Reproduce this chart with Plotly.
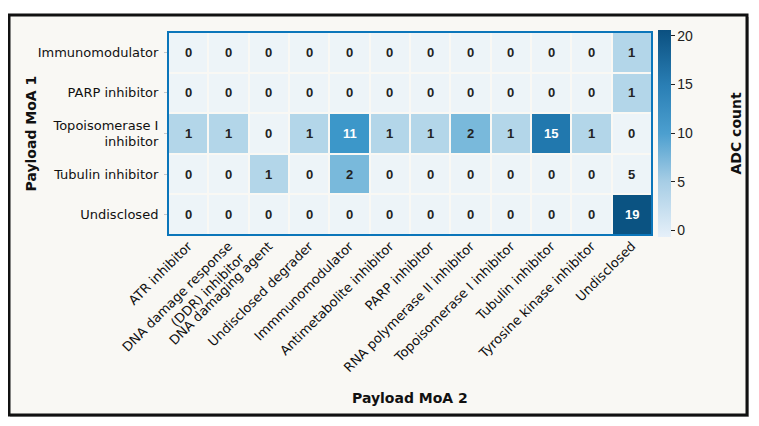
import plotly.graph_objects as go

moa1 = ["Immunomodulator", "PARP inhibitor", "Topoisomerase I<br>inhibitor",
        "Tubulin inhibitor", "Undisclosed"]
moa2 = ["ATR inhibitor", "DNA damage response<br>(DDR) inhibitor", "DNA damaging agent",
        "Undisclosed degrader", "Immmunomodulator", "Antimetabolite inhibitor",
        "PARP inhibitor", "RNA polymerase II inhibitor", "Topoisomerase I inhibitor",
        "Tubulin inhibitor", "Tyrosine kinase inhibitor", "Undisclosed"]

counts = [
    [0, 0, 0, 0, 0, 0, 0, 0, 0, 0, 0, 1],
    [0, 0, 0, 0, 0, 0, 0, 0, 0, 0, 0, 1],
    [1, 1, 0, 1, 11, 1, 1, 2, 1, 15, 1, 0],
    [0, 0, 1, 0, 2, 0, 0, 0, 0, 0, 0, 5],
    [0, 0, 0, 0, 0, 0, 0, 0, 0, 0, 0, 19],
]
# shade level of each cell as it appears in the picture
shade = [
    [0, 0, 0, 0, 0, 0, 0, 0, 0, 0, 0, 1],
    [0, 0, 0, 0, 0, 0, 0, 0, 0, 0, 0, 1],
    [1, 1, 0, 1, 11, 1, 1, 2, 1, 15, 1, 0],
    [0, 0, 1, 0, 2, 0, 0, 0, 0, 0, 0, 0],
    [0, 0, 0, 0, 0, 0, 0, 0, 0, 0, 0, 19],
]

cell_scale = [
    [0.0, "#edf4f8"], [1 / 19, "#b3d6e9"], [2 / 19, "#79b9db"],
    [11 / 19, "#3c97c9"], [15 / 19, "#2178ae"], [1.0, "#0b5382"],
]
bar_scale = [
    [0.0, "#e6f0f9"], [0.27, "#a6cde5"], [0.5, "#4c9fcf"],
    [0.73, "#2a7fb5"], [1.0, "#0b5080"],
]

FONT = "DejaVu Sans, sans-serif"
NUMFONT = "Liberation Sans, Arial, sans-serif"
OFF = 8  # page body margin
W, H = 759 - OFF, 426 - OFF
# plot area in page pixels: x 168..652, y 32..235
L, T = 168 - OFF, 32 - OFF
R, B = W - (652 - OFF), H - (235 - OFF)
pw, ph = W - L - R, H - T - B
GRID = "#0b76ba"


def fx(px):
    return (px - OFF - L) / pw


def fy(py):
    return (H - B - (py - OFF)) / ph


fig = go.Figure()
fig.add_trace(go.Heatmap(
    z=shade, x=list(range(len(moa2))), y=list(range(len(moa1))),
    colorscale=cell_scale, zmin=0, zmax=19, showscale=False,
    xgap=2, ygap=2, hoverinfo="skip",
))
# colorbar carrier
fig.add_trace(go.Scatter(
    x=[0], y=[0], mode="markers", hoverinfo="skip", showlegend=False,
    marker=dict(size=0.1, opacity=0, color=[0], colorscale=bar_scale,
                cmin=-0.7, cmax=20.6, showscale=True,
                colorbar=dict(
                    x=fx(658), xanchor="left", xpad=0, ypad=0,
                    y=0.5, yanchor="middle", lenmode="pixels", len=207,
                    thicknessmode="pixels", thickness=13, outlinewidth=0,
                    tickvals=[0, 5, 10, 15, 20], ticks="outside", ticklen=4,
                    tickcolor="#222",
                    tickfont=dict(family=NUMFONT, size=14, color="#222"),
                ))))

annotations = []
for i, row in enumerate(counts):
    for j, v in enumerate(row):
        annotations.append(dict(
            x=j, y=i, text=f"<b>{v}</b>", showarrow=False,
            font=dict(family=NUMFONT, size=13,
                      color="white" if shade[i][j] >= 10 else "#222")))
annotations.append(dict(
    x=fx(735), y=0.5, xref="paper", yref="paper", text="<b>ADC count</b>",
    showarrow=False, textangle=-90, xanchor="center", yanchor="middle",
    font=dict(family=FONT, size=14, color="#111")))
annotations.append(dict(
    x=fx(30), y=0.5, xref="paper", yref="paper", text="<b>Payload MoA 1</b>",
    showarrow=False, textangle=-90, xanchor="center", yanchor="middle",
    font=dict(family=FONT, size=14, color="#111")))
annotations.append(dict(
    x=0.5, y=fy(398), xref="paper", yref="paper",
    text="<b>Payload MoA 2</b>", showarrow=False, xanchor="center", yanchor="middle",
    font=dict(family=FONT, size=14, color="#111")))

fig.update_layout(
    width=W, height=H, margin=dict(l=L, r=R, t=T, b=B, autoexpand=False),
    paper_bgcolor="white", plot_bgcolor=GRID,
    font=dict(family=FONT, size=13, color="#222"),
    annotations=annotations,
    xaxis=dict(tickvals=list(range(len(moa2))), ticktext=moa2, tickangle=-45,
               showgrid=False, zeroline=False, ticks="", automargin=False,
               range=[-0.5, len(moa2) - 0.5],
               tickfont=dict(family=FONT, size=13, color="#111")),
    yaxis=dict(tickvals=list(range(len(moa1))), ticktext=moa1, autorange="reversed",
               showgrid=False, zeroline=False, ticks="outside", ticklen=3,
               tickcolor="#c8c8c8", automargin=False, ticklabelstandoff=3,
               tickfont=dict(family=FONT, size=13, color="#111")),
    shapes=[
        dict(type="rect", xref="paper", yref="paper", layer="below",
             x0=fx(10), x1=fx(749), y0=fy(417), y1=fy(17),
             fillcolor="#b8b8b8", line=dict(width=0)),
        dict(type="rect", xref="paper", yref="paper", layer="below",
             x0=fx(9), x1=fx(747), y0=fy(415), y1=fy(15),
             fillcolor="#f9f8f4", line=dict(color="#111", width=3)),
        dict(type="rect", xref="paper", yref="paper", layer="above",
             x0=0, x1=1, y0=0, y1=1, line=dict(color=GRID, width=2)),
    ],
)

fig.write_html("out.html")
